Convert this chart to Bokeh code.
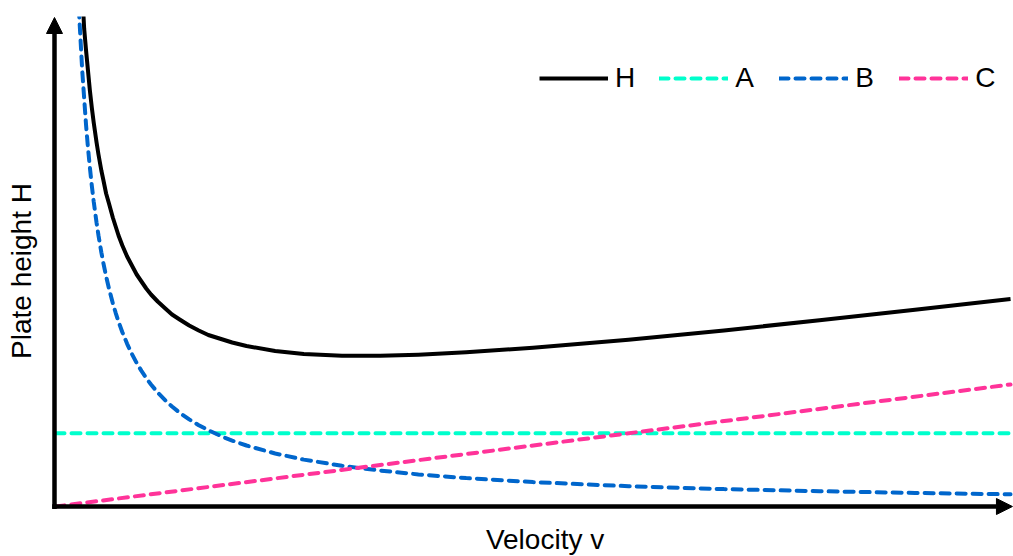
import math
from bokeh.plotting import figure
from bokeh.models import Range1d, Arrow, NormalHead, Label, Legend, LegendItem
from bokeh.embed import file_html
from bokeh.resources import INLINE

# ---- data (arbitrary units) ----
v_B = [0.23, 0.25, 0.28, 0.32, 0.34, 0.36, 0.38, 0.40, 0.43, 0.45, 0.48, 0.50, 0.53, 0.56, 0.60,
       0.63, 0.66, 0.70, 0.75, 0.80, 0.85, 0.90, 0.95, 1.0, 1.07, 1.15, 1.22, 1.3, 1.4, 1.5, 1.6,
       1.75, 1.85, 2.0, 2.3, 2.6, 3.0, 3.4, 3.8, 4.3, 5.0, 6.0, 7.0, 8.0, 9.0, 10.0]
B_vals = [53.0, 48.8, 43.57, 38.13, 35.88, 33.89, 32.11, 30.5, 28.37, 27.11, 25.42, 24.4, 23.02, 21.79, 20.33,
          19.37, 18.48, 17.43, 16.27, 15.25, 14.35, 13.56, 12.84, 12.2, 11.40, 10.61, 10.0, 9.38, 8.71, 8.13, 7.63,
          6.97, 6.59, 6.1, 5.30, 4.69, 4.07, 3.59, 3.21, 2.84, 2.44, 2.03, 1.74, 1.53, 1.36, 1.22]

v_H = [0.28, 0.30, 0.32, 0.34, 0.36, 0.38, 0.40, 0.43, 0.45, 0.48, 0.50, 0.53, 0.56, 0.60, 0.63,
       0.66, 0.70, 0.75, 0.80, 0.85, 0.90, 0.95, 1.0, 1.07, 1.15, 1.22, 1.3, 1.4, 1.5, 1.6, 1.75,
       1.85, 2.0, 2.3, 2.6, 3.0, 3.4, 3.8, 4.3, 5.0, 6.0, 7.0, 8.0, 9.0, 10.0]
H_vals = [51.5, 47.8, 45.6, 43.6, 41.6, 39.9, 38.4, 36.4, 35.2, 33.6, 32.7, 31.3, 30.3, 28.9, 28.0,
          27.1, 26.1, 25.0, 24.1, 23.2, 22.5, 21.8, 21.2, 20.5, 19.8, 19.2, 18.7, 18.1, 17.6, 17.15, 16.7,
          16.4, 16.05, 15.55, 15.25, 15.08, 15.07, 15.18, 15.42, 15.87, 16.68, 17.61, 18.62, 19.67, 20.75]

v_A = [0.0, 10.0]
A_vals = [7.33, 7.33]

v_C = [0.0, 10.0]
C_vals = [0.0, 12.2]

series_labels = ["H", "A", "B", "C"]
x_label = "Velocity v"
y_label = "Plate height H"

FONT = "Liberation Sans"

p = figure(width=1013, height=556,
           x_range=Range1d(-0.5759, 10.031), y_range=Range1d(-5.0, 49.0),
           x_axis_type=None, y_axis_type=None,
           output_backend="svg", toolbar_location=None,
           min_border_left=0, min_border_right=0, min_border_top=16, min_border_bottom=0)
p.outline_line_color = None
p.background_fill_color = "white"
p.border_fill_color = "white"

rH = p.line(v_H, H_vals, line_color="black", line_width=4, line_join="round")
rA = p.line(v_A, A_vals, line_color="#00FFCC", line_width=4, line_dash="9 7", line_cap="round")
rB = p.line(v_B, B_vals, line_color="#0066CC", line_width=4, line_dash="9 7", line_cap="round")
rC = p.line(v_C, C_vals, line_color="#FF3399", line_width=4, line_dash="9 7", line_cap="round")

# axes as arrows
p.add_layout(Arrow(end=NormalHead(size=16, fill_color="black", line_color="black", line_width=1),
                   x_start=-0.0105, y_start=-0.25, x_end=-0.0105, y_end=48.9,
                   line_color="black", line_width=4.5))
p.add_layout(Arrow(end=NormalHead(size=16, fill_color="black", line_color="black", line_width=1),
                   x_start=-0.035, y_start=0.0, x_end=10.02, y_end=0.0,
                   line_color="black", line_width=4.5))

p.add_layout(Label(x=5.126, y=-3.3, text=x_label, text_align="center", text_baseline="alphabetic",
                   text_font=FONT, text_font_size="28px", text_color="black"))
p.add_layout(Label(x=-0.356, y=23.55, text=y_label, angle=math.pi / 2,
                   text_align="center", text_baseline="alphabetic",
                   text_font=FONT, text_font_size="28px", text_color="black"))

legend = Legend(items=[LegendItem(label=series_labels[0], renderers=[rH]),
                       LegendItem(label=series_labels[1], renderers=[rA]),
                       LegendItem(label=series_labels[2], renderers=[rB]),
                       LegendItem(label=series_labels[3], renderers=[rC])],
                orientation="horizontal", location=(539, 462),
                label_text_font=FONT, label_text_font_size="28px", label_text_color="black",
                glyph_width=69, glyph_height=28, label_standoff=7, spacing=24,
                padding=0, margin=0, border_line_color=None, background_fill_alpha=0)
p.add_layout(legend)

open("out.html", "w").write(file_html(p, INLINE))
